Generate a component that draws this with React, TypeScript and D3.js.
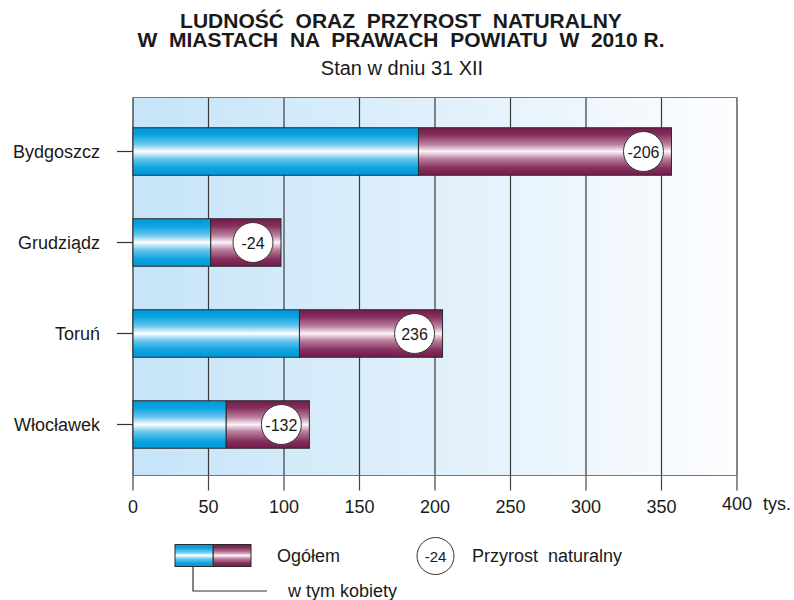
import React from "react";
import * as d3 from "d3";

const cities: string[] = ["Bydgoszcz", "Grudziądz", "Toruń", "Włocławek"];
const totalPop: number[] = [356.6, 98.0, 205.0, 116.8];
const womenPop: number[] = [189.0, 51.4, 110.2, 61.6];
const naturalIncrease: number[] = [-206, -24, 236, -132];
const xTicks: number[] = [0, 50, 100, 150, 200, 250, 300, 350, 400];
const titleLines: string[] = [
  "LUDNOŚĆ  ORAZ  PRZYROST  NATURALNY",
  "W  MIASTACH  NA  PRAWACH  POWIATU  W  2010 R.",
];
const subtitle = "Stan w dniu 31 XII";
const unitLabel = "tys.";
const legendTotal = "Ogółem";
const legendWomen = "w tym kobiety";
const legendIncrease = "Przyrost  naturalny";
const legendIncreaseSample = "-24";

const W = 794;
const H = 600;
const left = 133;
const right = 737;
const top = 97.5;
const bottom = 475.5;
const barH = 47.5;
const font = "Arial, 'Liberation Sans', Helvetica, sans-serif";

function fmt(v: number): string {
  return v < 0 ? "-" + Math.abs(v) : String(v);
}

export default function App() {
  const x = d3.scaleLinear().domain([0, 400]).range([left, right]);
  const y = d3.scalePoint<string>().domain(cities).range([151.5, 424.5]).padding(0);

  return (
    <svg
      width={W}
      height={H}
      viewBox={`0 0 ${W} ${H}`}
      style={{ position: "absolute", left: 0, top: 0, display: "block", background: "#fff" }}
      fontFamily={font}
    >
      <defs>
        <linearGradient id="bg" x1="0" y1="0" x2="1" y2="0">
          <stop offset="0%" stopColor="#c5e4f8" />
          <stop offset="50%" stopColor="#e0f0fb" />
          <stop offset="100%" stopColor="#fdfdff" />
        </linearGradient>
        <linearGradient id="blue" x1="0" y1="0" x2="0" y2="1">
          <stop offset="0%" stopColor="#0098da" />
          <stop offset="15%" stopColor="#0ba2df" />
          <stop offset="35%" stopColor="#6cc7ef" />
          <stop offset="50%" stopColor="#ffffff" />
          <stop offset="65%" stopColor="#6cc7ef" />
          <stop offset="85%" stopColor="#0ba2df" />
          <stop offset="100%" stopColor="#0098da" />
        </linearGradient>
        <linearGradient id="purple" x1="0" y1="0" x2="0" y2="1">
          <stop offset="0%" stopColor="#741a4b" />
          <stop offset="15%" stopColor="#84305c" />
          <stop offset="35%" stopColor="#bb7f9f" />
          <stop offset="50%" stopColor="#fdf3f8" />
          <stop offset="65%" stopColor="#bb7f9f" />
          <stop offset="85%" stopColor="#84305c" />
          <stop offset="100%" stopColor="#741a4b" />
        </linearGradient>
      </defs>

      {/* Title */}
      <text x={401} y={27.5} textAnchor="middle" fontSize={21} fontWeight="bold" fill="#1a1a1a" style={{ whiteSpace: "pre" }}>
        {titleLines[0]}
      </text>
      <text x={401} y={47} textAnchor="middle" fontSize={21} fontWeight="bold" fill="#1a1a1a" style={{ whiteSpace: "pre" }}>
        {titleLines[1]}
      </text>
      <text x={402} y={75} textAnchor="middle" fontSize={20} fill="#1a1a1a">
        {subtitle}
      </text>

      {/* Plot background */}
      <rect x={left} y={top} width={right - left} height={bottom - top} fill="url(#bg)" />

      {/* Gridlines */}
      {xTicks.slice(1, -1).map((t) => (
        <line key={"g" + t} x1={x(t)} x2={x(t)} y1={top} y2={bottom} stroke="#3a3a3a" strokeWidth={1.2} />
      ))}
      {/* Frame */}
      <line x1={left} x2={right} y1={top} y2={top} stroke="#777" strokeWidth={1.2} />
      <line x1={left} x2={right} y1={bottom} y2={bottom} stroke="#777" strokeWidth={1.2} />
      <line x1={right} x2={right} y1={top} y2={bottom} stroke="#333" strokeWidth={1.2} />
      <line x1={left} x2={left} y1={top} y2={bottom} stroke="#444" strokeWidth={1.4} />

      {/* X ticks & labels */}
      {xTicks.map((t) => (
        <g key={"t" + t}>
          <line x1={x(t)} x2={x(t)} y1={bottom} y2={490.5} stroke="#444" strokeWidth={1.2} />
          <text x={x(t)} y={t === 400 ? 510 : 512.5} textAnchor="middle" fontSize={18} fill="#1a1a1a">
            {t}
          </text>
        </g>
      ))}
      <text x={763} y={510} fontSize={18} fill="#1a1a1a">
        {unitLabel}
      </text>

      {/* Y ticks & labels */}
      {cities.map((c) => (
        <g key={"y" + c}>
          <line x1={117} x2={left} y1={y(c)!} y2={y(c)!} stroke="#333" strokeWidth={1.2} />
          <text x={100} y={y(c)! + 6.5} textAnchor="end" fontSize={18} fill="#1a1a1a">
            {c}
          </text>
        </g>
      ))}

      {/* Bars */}
      {cities.map((c, i) => {
        const cy = y(c)!;
        const y0 = cy - barH / 2;
        const xt = x(totalPop[i]);
        const xw = x(womenPop[i]);
        const cx = xt - 28;
        return (
          <g key={"b" + c}>
            <rect x={xw} y={y0} width={xt - xw} height={barH} fill="url(#purple)" stroke="#2a2a2a" strokeWidth={1} />
            <rect x={x(0)} y={y0} width={xw - x(0)} height={barH} fill="url(#blue)" stroke="#2a2a2a" strokeWidth={1} />
            <circle cx={cx} cy={cy} r={20} fill="#fff" stroke="#333" strokeWidth={1} />
            <text x={cx} y={cy + 6} textAnchor="middle" fontSize={16} fill="#1a1a1a">
              {fmt(naturalIncrease[i])}
            </text>
          </g>
        );
      })}

      {/* Legend */}
      <rect x={213} y={544.5} width={38} height={22} fill="url(#purple)" stroke="#2a2a2a" strokeWidth={1} />
      <rect x={175} y={544.5} width={38} height={22} fill="url(#blue)" stroke="#2a2a2a" strokeWidth={1} />
      <polyline points="193,566.5 193,591 267,591" fill="none" stroke="#333" strokeWidth={1.2} />
      <text x={277} y={562} fontSize={18} fill="#1a1a1a">
        {legendTotal}
      </text>
      <text x={288} y={597} fontSize={18} fill="#1a1a1a">
        {legendWomen}
      </text>
      <circle cx={435.5} cy={556} r={18.5} fill="#fff" stroke="#333" strokeWidth={1} />
      <text x={435.5} y={561.5} textAnchor="middle" fontSize={15} fill="#1a1a1a">
        {legendIncreaseSample}
      </text>
      <text x={472} y={562} fontSize={18} fill="#1a1a1a" style={{ whiteSpace: "pre" }}>
        {legendIncrease}
      </text>
    </svg>
  );
}
